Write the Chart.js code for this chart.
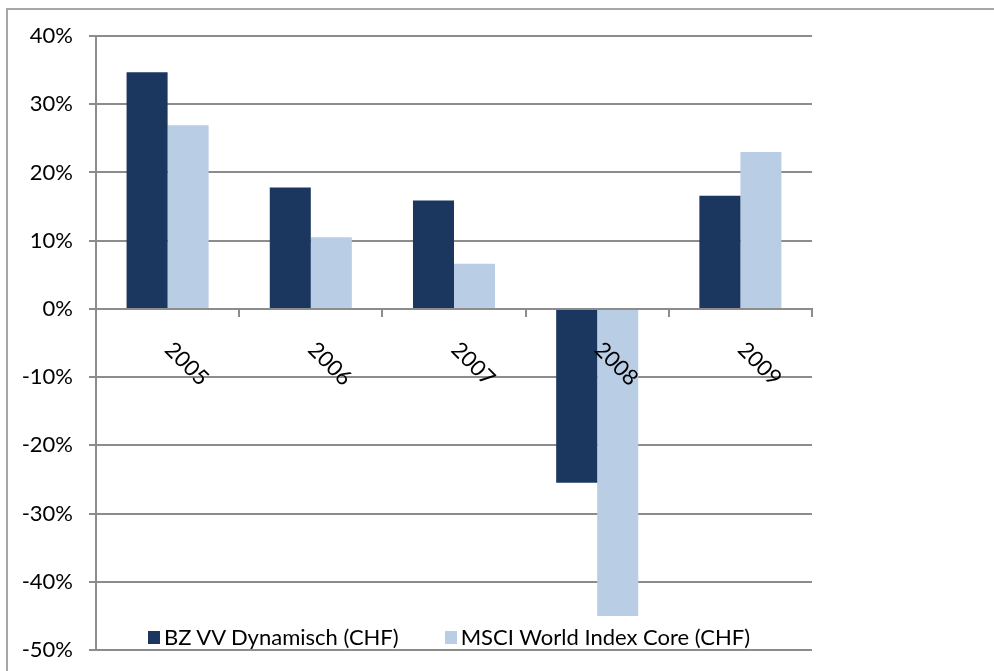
<!DOCTYPE html>
<html>
<head>
<meta charset="utf-8">
<script src="https://cdn.jsdelivr.net/npm/chart.js@4"></script>
<style>
  html, body { margin: 0; padding: 0; background: #fff; overflow: hidden; }
  #frame {
    position: absolute; left: 6px; top: 8px; width: 1200px; height: 900px;
    border-left: 2px solid #a6a6a6; border-top: 2px solid #a6a6a6;
  }
  #chart { position: absolute; left: 0; top: 0; }
  #legend {
    position: absolute; left: 148px; top: 623px;
    font-family: Lato, sans-serif; font-size: 22px; color: #000;
    display: flex; white-space: nowrap;
  }
  .item { display: flex; align-items: center; margin-right: 46px; }
  .sw { width: 12px; height: 13px; margin-right: 4px; margin-top: 2px; }
</style>
</head>
<body>
<div id="frame"></div>
<canvas id="chart" width="994" height="671"></canvas>
<div id="legend"></div>
<script>
// ── Data ──────────────────────────────────────────────────────────
const years      = ['2005', '2006', '2007', '2008', '2009'];
const bzValues   = [34.7, 17.8, 15.9, -25.5, 16.6];
const msciValues = [26.9, 10.5, 6.6, -45.0, 23.0];
const seriesNames = ['BZ VV Dynamisch (CHF)', 'MSCI World Index Core (CHF)'];
const yTicks = { min: -50, max: 40, step: 10 };

const GRID = '#8c8c8c';
const FONT = 'Lato, sans-serif';

// ── Year labels drawn at the zero line, rotated like the original ──
const yearLabels = {
  id: 'yearLabels',
  afterDatasetsDraw(chart) {
    const { ctx, scales: { x, y } } = chart;
    const y0 = y.getPixelForValue(0);
    ctx.save();
    ctx.font = '22px ' + FONT;
    ctx.fillStyle = '#000';
    ctx.textAlign = 'left';
    ctx.textBaseline = 'middle';
    years.forEach((lbl, i) => {
      ctx.save();
      ctx.translate(x.getPixelForValue(i) + 1, y0 + 37);
      ctx.rotate(Math.PI / 4);
      ctx.fillText(lbl, 0, 0);
      ctx.restore();
    });
    ctx.restore();
  }
};

const chart = new Chart(document.getElementById('chart'), {
  type: 'bar',
  data: {
    labels: years,
    datasets: [
      { label: seriesNames[0], data: bzValues,   backgroundColor: '#1b3760' },
      { label: seriesNames[1], data: msciValues, backgroundColor: '#b9cde5' },
    ]
  },
  options: {
    responsive: false,
    animation: false,
    layout: { padding: { left: 0, right: 182, top: 36, bottom: 21 } },
    datasets: { bar: { categoryPercentage: 0.573, barPercentage: 1.0 } },
    plugins: { legend: { display: false }, tooltip: { enabled: false } },
    scales: {
      x: {
        position: { y: 0 },
        afterFit: s => { s.height = 0; },
        ticks: { display: false },
        grid: { drawOnChartArea: false, drawTicks: true, tickLength: 7, color: GRID, lineWidth: 2, offset: true },
        border: { color: GRID, width: 2 },
      },
      y: {
        min: yTicks.min, max: yTicks.max,
        // fixed axis width; drop the label padding that would shrink the plot
        afterFit: s => { s.width = 96; s.paddingTop = 0; s.paddingBottom = 0; },
        ticks: {
          stepSize: yTicks.step,
          padding: 16,
          color: '#000',
          font: { family: FONT, size: 22 },
          callback: v => v + '%',
        },
        grid: { color: GRID, lineWidth: 2, tickLength: 7 },
        border: { color: GRID, width: 2 },
      }
    }
  },
  plugins: [yearLabels]
});

// ── Legend (overlaid at the bottom of the plot, as in the original) ──
const legend = document.getElementById('legend');
chart.data.datasets.forEach(ds => {
  const it = document.createElement('div');
  it.className = 'item';
  it.innerHTML = `<span class="sw" style="background:${ds.backgroundColor}"></span><span>${ds.label}</span>`;
  legend.appendChild(it);
});
</script>
</body>
</html>
